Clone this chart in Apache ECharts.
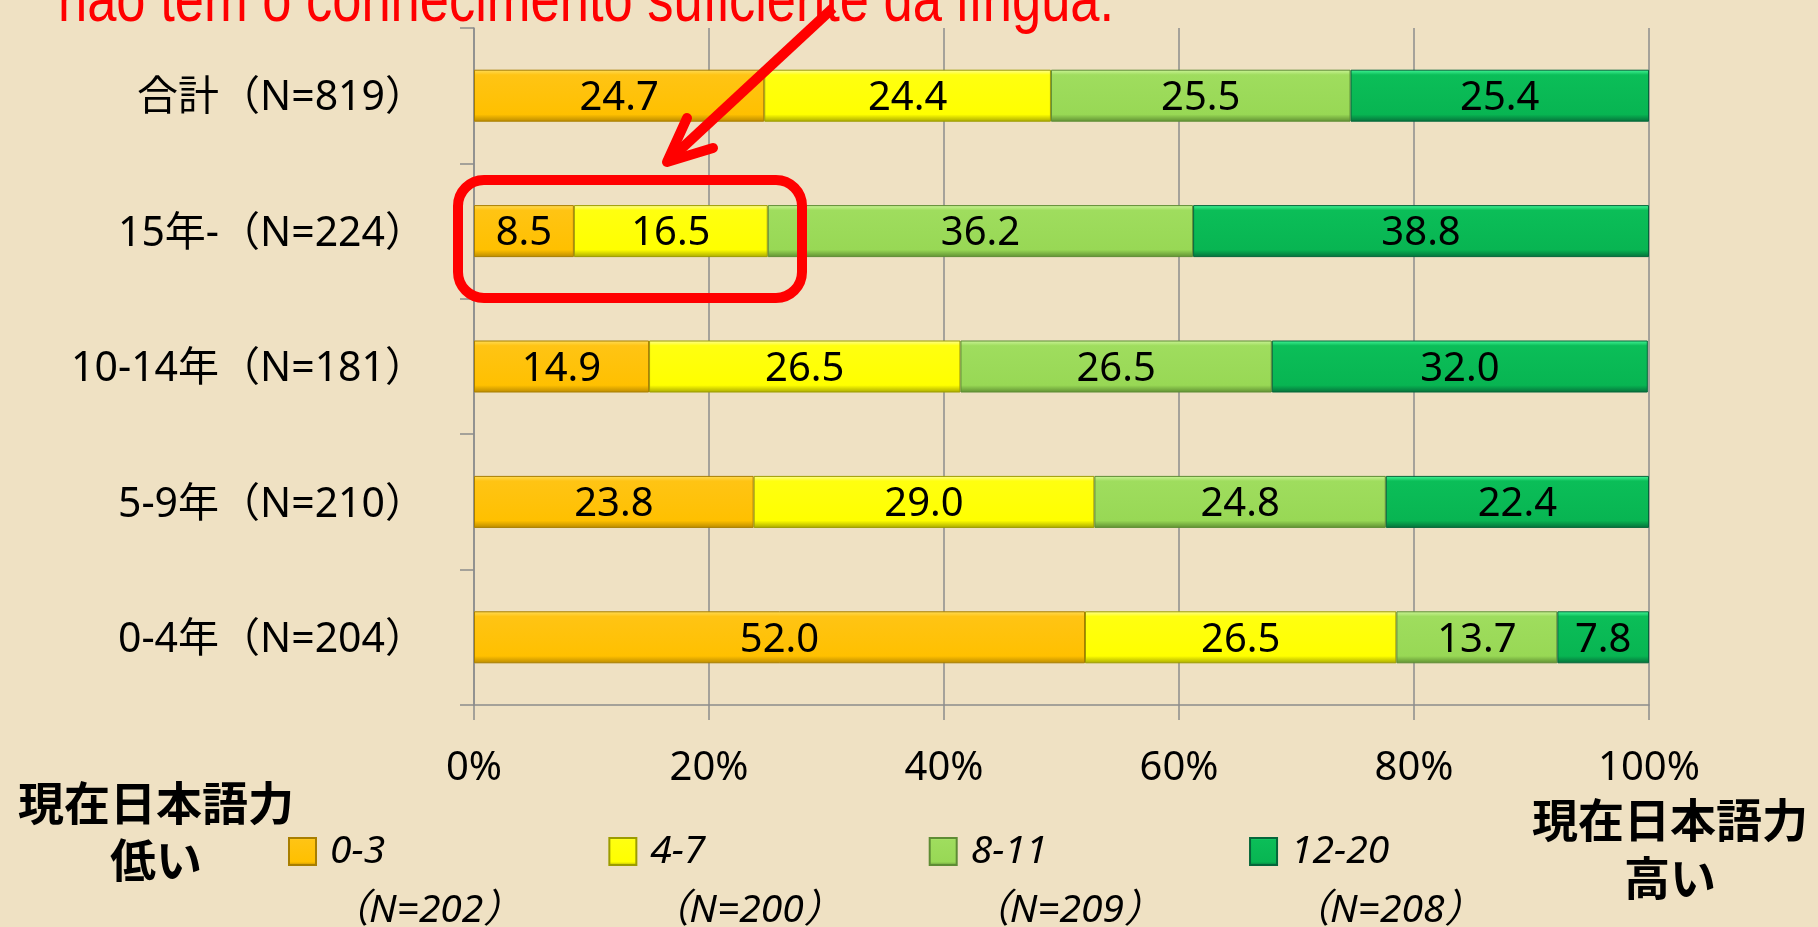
<!DOCTYPE html>
<html>
<head>
<meta charset="utf-8">
<script src="https://cdn.jsdelivr.net/npm/echarts@6/dist/echarts.min.js"></script>
<style>
html,body{margin:0;padding:0;background:#EFE1C3;}
#chart{width:1818px;height:927px;}
</style>
</head>
<body>
<div id="chart"></div>
<script>
const categories = ['合計（N=819）', '15年-（N=224）', '10-14年（N=181）', '5-9年（N=210）', '0-4年（N=204）'];
const levels = ['0-3', '4-7', '8-11', '12-20'];
const levelN = ['（N=202）', '（N=200）', '（N=209）', '（N=208）'];
const s0_3 = [24.7, 8.5, 14.9, 23.8, 52.0];
const s4_7 = [24.4, 16.5, 26.5, 29.0, 26.5];
const s8_11 = [25.5, 36.2, 26.5, 24.8, 13.7];
const s12_20 = [25.4, 38.8, 32.0, 22.4, 7.8];
const xTickLabels = ['0%', '20%', '40%', '60%', '80%', '100%'];
const noteText = 'não tem o conhecimento suficiente da língua.';
const lowLabel = '現在日本語力\n低い';
const highLabel = '現在日本語力\n高い';

const FONT = "'Noto Sans', 'Noto Sans CJK JP', sans-serif";
const JFONT = "'Noto Sans CJK JP', sans-serif";

function grad(c0, c1, c2, c3) {
  return new echarts.graphic.LinearGradient(0, 0, 0, 1, [
    {offset: 0, color: c0}, {offset: 0.1, color: c1},
    {offset: 0.86, color: c2}, {offset: 1, color: c3}
  ]);
}
const fills = [
  grad('#FFDD5A', '#FFC414', '#FFC000', '#B98A00'),
  grad('#FFFF9A', '#FFFF10', '#FFFF00', '#A8A800'),
  grad('#CDF59A', '#9FDD5E', '#98D855', '#5F8F32'),
  grad('#45F79A', '#0BBE58', '#08B552', '#05703A')
];
const borders = ['#A87E00', '#9C9C00', '#5E8C34', '#04663A'];
const seriesData = [s0_3, s4_7, s8_11, s12_20];

const chart = echarts.init(document.getElementById('chart'), null, {renderer: 'canvas'});

const series = levels.map((name, i) => ({
  name: name,
  type: 'bar',
  stack: 'total',
  barWidth: 52,
  data: seriesData[i],
  itemStyle: {color: fills[i], borderColor: borders[i], borderWidth: 1},
  label: {
    show: true, position: 'inside', color: '#000', offset: [0, 3],
    fontFamily: FONT, fontSize: 40,
    formatter: p => Number(p.value).toFixed(1)
  }
}));

chart.setOption({
  backgroundColor: '#EFE1C3',
  animation: false,
  grid: {left: 474, right: 169, top: 28, bottom: 222, containLabel: false},
  xAxis: {
    type: 'value', min: 0, max: 100, interval: 20,
    axisLine: {show: true, lineStyle: {color: '#8C8C8C', width: 1.5}},
    axisTick: {show: true, length: 15, lineStyle: {color: '#8C8C8C', width: 1.5}},
    splitLine: {show: true, lineStyle: {color: '#8C8C8C', width: 1.5}},
    axisLabel: {
      color: '#000', fontFamily: FONT, fontSize: 40, margin: 44,
      formatter: v => xTickLabels[Math.round(v / 20)]
    }
  },
  yAxis: {
    type: 'category', inverse: true, data: categories,
    axisLine: {show: true, lineStyle: {color: '#8C8C8C', width: 1.5}},
    axisTick: {show: true, length: 14, lineStyle: {color: '#8C8C8C', width: 1.5}},
    axisLabel: {color: '#000', fontFamily: FONT, fontSize: 41, margin: 48,
      formatter: v => '{c|' + v + '}',
      rich: {c: {fontFamily: FONT, fontSize: 41, color: '#000', padding: [6, 0, 0, 0]}}}
  },
  legend: {
    data: levels,
    left: 288, top: 832,
    padding: 0,
    itemWidth: 27, itemHeight: 27, itemGap: 86,
    icon: 'rect',
    selectedMode: false,
    formatter: name => '{a|' + name + '}\n{b|' + levelN[levels.indexOf(name)] + '}',
    textStyle: {
      padding: [59, 0, 0, 9],
      rich: {
        a: {fontFamily: FONT, fontStyle: 'italic', fontSize: 39, lineHeight: 59, color: '#000'},
        b: {fontFamily: FONT, fontStyle: 'italic', fontSize: 39, lineHeight: 59, color: '#000'}
      }
    }
  },
  graphic: [
    {
      type: 'text', x: 58, y: 3, scaleX: 0.82, silent: true,
      style: {text: noteText, fill: '#FF0000', font: "64px 'Liberation Sans Narrow', 'Liberation Sans', sans-serif",
        align: 'left', verticalAlign: 'middle'}
    },
    {
      type: 'text', x: 156, y: 831, silent: true,
      style: {text: lowLabel, fill: '#000', fontFamily: JFONT, fontWeight: 'bold', fontSize: 46,
        lineHeight: 57, align: 'center', verticalAlign: 'middle'}
    },
    {
      type: 'text', x: 1670, y: 849, silent: true,
      style: {text: highLabel, fill: '#000', fontFamily: JFONT, fontWeight: 'bold', fontSize: 46,
        lineHeight: 58, align: 'center', verticalAlign: 'middle'}
    },
    {
      type: 'rect', silent: true, z: 100,
      shape: {x: 458, y: 180, width: 344, height: 118, r: 26},
      style: {fill: null, stroke: '#FF0000', lineWidth: 10}
    },
    {
      type: 'polyline', silent: true, z: 100,
      shape: {points: [[833, 8], [667, 162]]},
      style: {stroke: '#FF0000', lineWidth: 10, lineCap: 'butt', fill: null}
    },
    {
      type: 'polyline', silent: true, z: 100,
      shape: {points: [[687, 118], [667, 162], [713, 148]]},
      style: {stroke: '#FF0000', lineWidth: 10, lineCap: 'round', lineJoin: 'round', fill: null}
    }
  ],
  series: series
});
</script>
</body>
</html>
